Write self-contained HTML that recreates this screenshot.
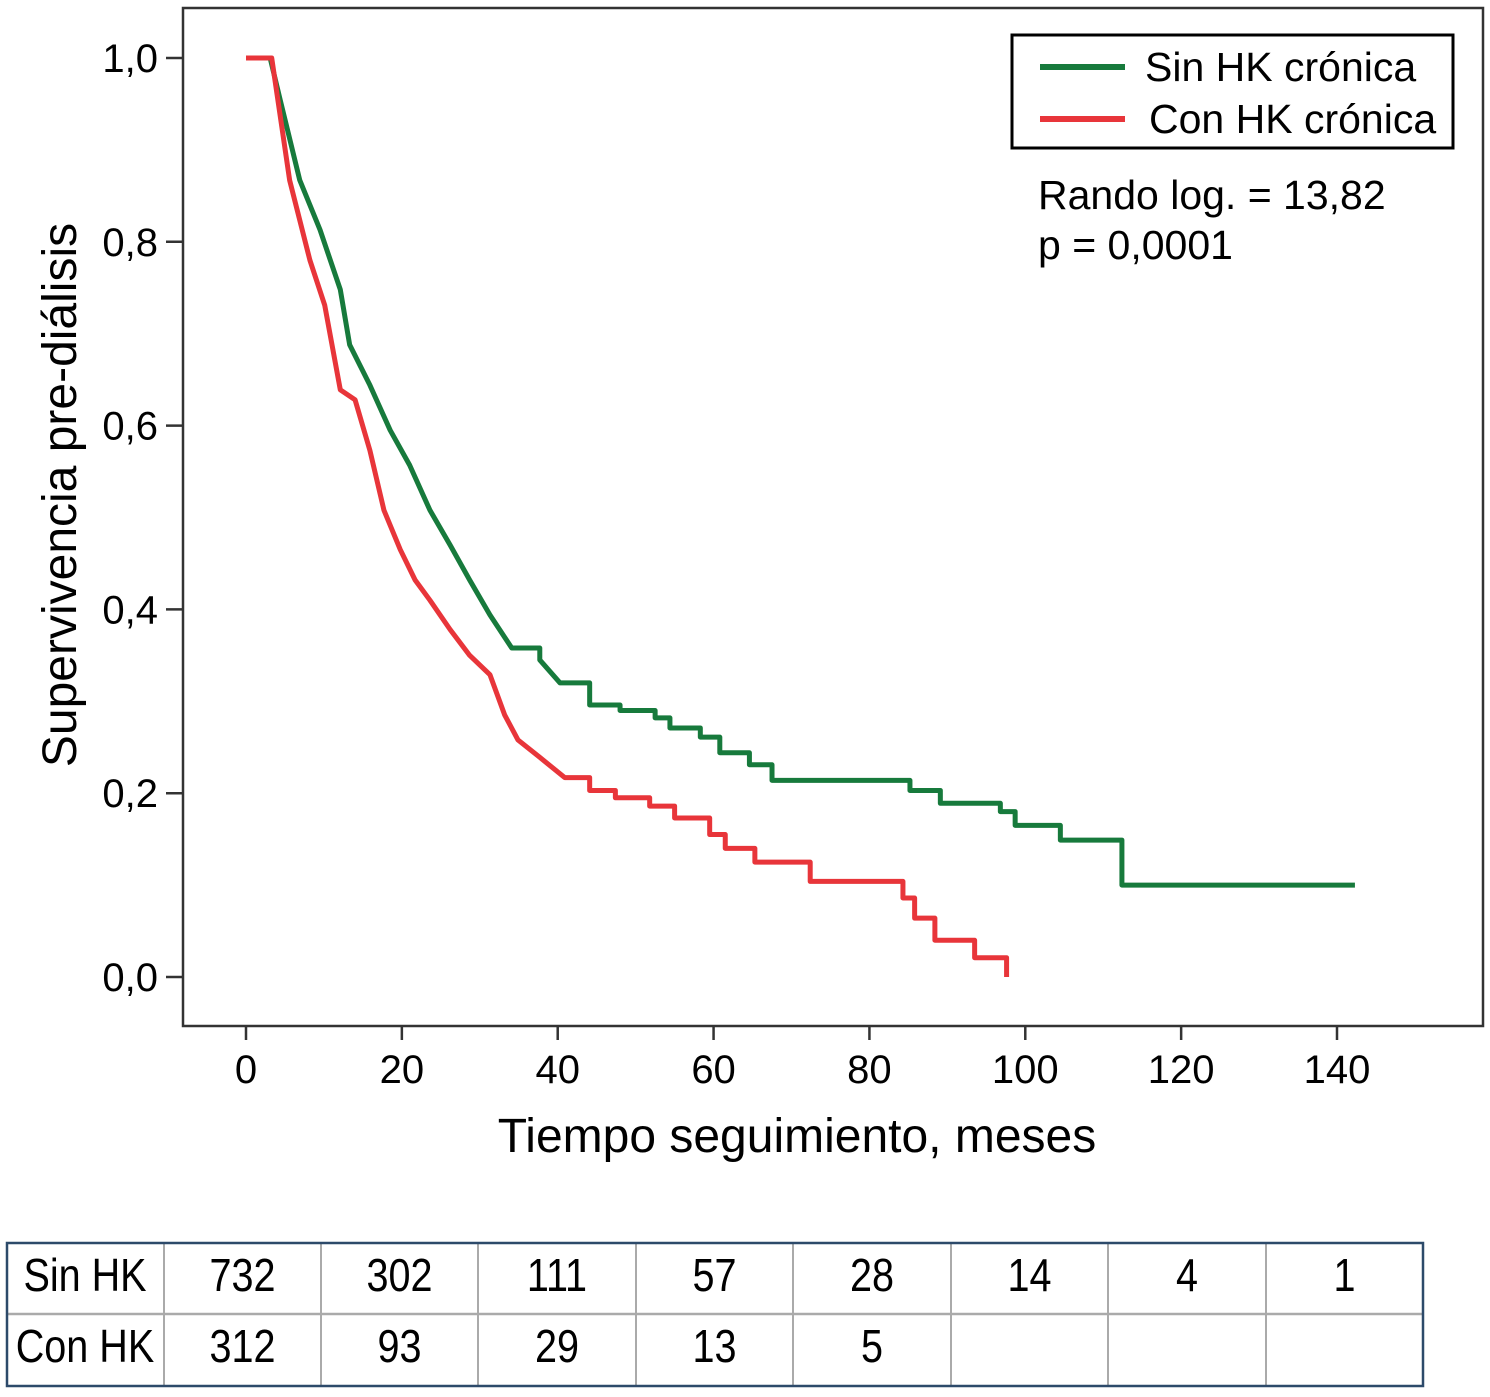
<!DOCTYPE html>
<html><head><meta charset="utf-8"><style>
body{margin:0;background:#fff;width:1490px;height:1392px;overflow:hidden;font-family:"Liberation Sans",sans-serif}
</style></head><body>
<svg id="chart" width="1490" height="1392" xmlns="http://www.w3.org/2000/svg" font-family="Liberation Sans, sans-serif">
<rect x="183" y="8" width="1300" height="1018" fill="none" stroke="#333" stroke-width="2.5"/>
<g id="axes"></g>
<g id="curves"></g>
<text x="797" y="1152" font-size="48" text-anchor="middle">Tiempo seguimiento, meses</text>
<text transform="translate(76,495) rotate(-90)" font-size="48" text-anchor="middle">Supervivencia pre-diálisis</text>
<g>
<rect x="1012" y="35" width="441" height="113" fill="#fff" stroke="#000" stroke-width="3"/>
<line x1="1040" y1="67" x2="1125" y2="67" stroke="#177a3c" stroke-width="6"/>
<text x="1145" y="81" font-size="41">Sin HK crónica</text>
<line x1="1040" y1="119" x2="1125" y2="119" stroke="#e8353a" stroke-width="6"/>
<text x="1149" y="133" font-size="41">Con HK crónica</text>
</g>
<text x="1038" y="209" font-size="41">Rando log. = 13,82</text>
<text x="1038" y="259" font-size="41">p = 0,0001</text>
<g id="risk"></g>
</svg>
<script>
const xTicks=[0,20,40,60,80,100,120,140];
const yTicks=[0,0.2,0.4,0.6,0.8,1.0];
const sinT=[0,3.1,4.4,6.9,9.5,12.1,13.3,15.9,18.5,21,23.6,26.2,28.7,31.3,34.1,37.7,40.3,44.1,48,52.5,54.4,58.3,60.8,64.6,67.5,81.4,85.2,89.1,96.8,98.7,104.5,112.4,142.3];
const sinS=[1,1,0.954,0.867,0.813,0.748,0.688,0.644,0.595,0.557,0.508,0.47,0.432,0.394,0.358,0.345,0.32,0.296,0.29,0.282,0.271,0.261,0.244,0.231,0.214,0.214,0.203,0.189,0.18,0.165,0.149,0.1,0.1];
const conT=[0,3.3,5.6,8.2,10.1,12.1,14,15.9,17.7,19.8,21.7,23.6,26.2,28.7,31.3,33.2,34.9,37.7,40.9,44.1,47.4,51.8,55,59.5,61.5,65.3,72.4,84.3,85.8,88.4,93.5,97.6];
const conS=[1,1,0.867,0.78,0.731,0.639,0.628,0.573,0.508,0.465,0.432,0.41,0.378,0.35,0.329,0.285,0.258,0.239,0.217,0.203,0.195,0.186,0.173,0.155,0.14,0.125,0.104,0.086,0.064,0.04,0.021,0];
const riskSin=["732","302","111","57","28","14","4","1"];
const riskCon=["312","93","29","13","5","","",""];
const NS="http://www.w3.org/2000/svg";
const X=v=>246+v*(1337-246)/140;
const Y=v=>977-v*919;
function mk(tag,attrs,parent){const e=document.createElementNS(NS,tag);for(const k in attrs)e.setAttribute(k,attrs[k]);parent.appendChild(e);return e;}
const ax=document.getElementById('axes');
xTicks.forEach(t=>{
 const l=mk('line',{x1:X(t),x2:X(t),y1:1026,y2:1040,stroke:'#333','stroke-width':2.5},ax);
 
 
 const tx=mk('text',{x:X(t),y:1083,'font-size':40,'text-anchor':'middle'},ax);tx.textContent=t;
 
 
});
yTicks.forEach(t=>{
 const l=mk('line',{x1:166,x2:183,y1:Y(t),y2:Y(t),stroke:'#333','stroke-width':2.5},ax);
 
 
 const tx=mk('text',{x:158,y:Y(t)+14,'font-size':40,'text-anchor':'end'},ax);tx.textContent=t.toFixed(1).replace('.',',');
 
 
});
// dense early drops drawn as direct segments, sparse later drops as steps
function path(T,S){let d='M'+X(T[0])+','+Y(S[0]);for(let i=1;i<T.length;i++){
 if(i>1 && T[i]-T[i-1]<=3.2 && T[i]<46){d+=' L'+X(T[i])+','+Y(S[i]);}
 else{d+=' H'+X(T[i])+' V'+Y(S[i]);}}return d;}
const cv=document.getElementById('curves');
const g=mk('path',{d:path(sinT,sinS),fill:'none',stroke:'#177a3c','stroke-width':5,'stroke-linejoin':'round'},cv);


const r=mk('path',{d:path(conT,conS),fill:'none',stroke:'#e8353a','stroke-width':5,'stroke-linejoin':'round'},cv);


const rk=document.getElementById('risk');
const cols=[7,164,321,478,636,793,951,1108,1266,1423];
for(let i=1;i<cols.length-1;i++){const l=mk('line',{x1:cols[i],x2:cols[i],y1:1243,y2:1386,stroke:'#aaa','stroke-width':2},rk);
 
 }
const hl=mk('line',{x1:7,x2:1423,y1:1314,y2:1314,stroke:'#aaa','stroke-width':2.5},rk);


const br=mk('rect',{x:7,y:1243,width:1416,height:143,fill:'none',stroke:'#2d4a6a','stroke-width':2.5},rk);


function row(label,vals,y,name){
 const t=mk('text',{x:85,y:y,'font-size':46,'text-anchor':'middle',transform:'translate(85,0) scale(0.86,1) translate(-85,0)'},rk);t.textContent=label;
 
 
 vals.forEach((v,i)=>{const cx=(cols[i+1]+cols[i+2])/2;
  const c=mk('text',{x:cx,y:y,'font-size':46,'text-anchor':'middle',transform:`translate(${cx},0) scale(0.86,1) translate(${-cx},0)`},rk);c.textContent=v;
  
  });
}
row('Sin HK',riskSin,1291,'risk-sin');
row('Con HK',riskCon,1362,'risk-con');
</script>
</body></html>
